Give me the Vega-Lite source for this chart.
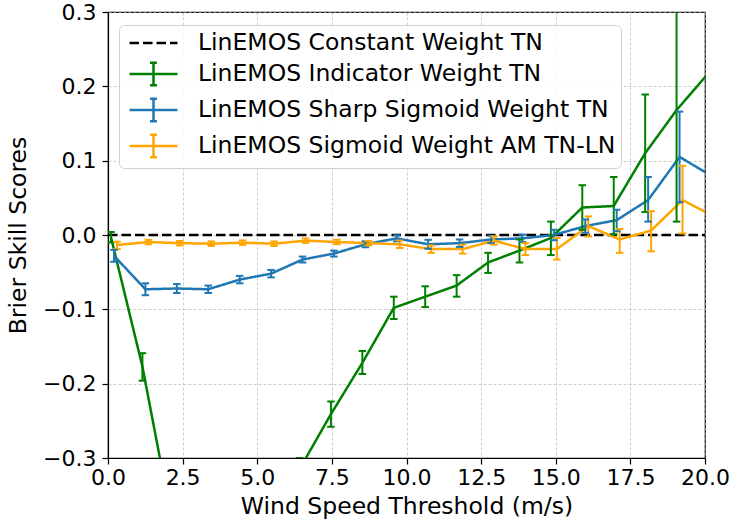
{
  "$schema": "https://vega.github.io/schema/vega-lite/v6.json",
  "width": 597,
  "height": 446,
  "autosize": {"type": "none"},
  "padding": {"left": 108, "top": 12, "right": 26, "bottom": 66},
  "background": "white",
  "config": {
    "font": "DejaVu Sans",
    "view": {"stroke": "black", "strokeWidth": 1.2},
    "axis": {
      "labelFont": "DejaVu Sans",
      "titleFont": "DejaVu Sans",
      "labelFontSize": 22,
      "titleFontSize": 23.5,
      "labelColor": "black",
      "titleColor": "black",
      "titleFontWeight": "normal",
      "labelFlush": false,
      "labelOverlap": false,
      "domainColor": "black",
      "domainWidth": 1.2,
      "tickColor": "black",
      "tickSize": 6,
      "tickWidth": 1.2,
      "gridColor": "#b0b0b0",
      "gridOpacity": 0.8,
      "gridDash": [3, 2],
      "gridWidth": 0.8
    }
  },
  "datasets": {
    "pts": [
      {"series": "LinEMOS Constant Weight TN", "x": 0, "y": 0},
      {"series": "LinEMOS Constant Weight TN", "x": 20, "y": 0},

      {"series": "LinEMOS Indicator Weight TN", "x": 0.1, "y": -0.003, "lo": -0.010, "hi": 0.004},
      {"series": "LinEMOS Indicator Weight TN", "x": 1.153, "y": -0.177, "lo": -0.196, "hi": -0.159},
      {"series": "LinEMOS Indicator Weight TN", "x": 2.205, "y": -0.398, "lo": -0.42, "hi": -0.376},
      {"series": "LinEMOS Indicator Weight TN", "x": 3.258, "y": -0.45, "lo": -0.47, "hi": -0.43},
      {"series": "LinEMOS Indicator Weight TN", "x": 4.311, "y": -0.42, "lo": -0.44, "hi": -0.40},
      {"series": "LinEMOS Indicator Weight TN", "x": 5.363, "y": -0.37, "lo": -0.39, "hi": -0.35},
      {"series": "LinEMOS Indicator Weight TN", "x": 6.416, "y": -0.315, "lo": -0.33, "hi": -0.300},
      {"series": "LinEMOS Indicator Weight TN", "x": 7.468, "y": -0.241, "lo": -0.258, "hi": -0.224},
      {"series": "LinEMOS Indicator Weight TN", "x": 8.521, "y": -0.172, "lo": -0.187, "hi": -0.156},
      {"series": "LinEMOS Indicator Weight TN", "x": 9.574, "y": -0.098, "lo": -0.113, "hi": -0.083},
      {"series": "LinEMOS Indicator Weight TN", "x": 10.626, "y": -0.083, "lo": -0.097, "hi": -0.069},
      {"series": "LinEMOS Indicator Weight TN", "x": 11.679, "y": -0.068, "lo": -0.083, "hi": -0.054},
      {"series": "LinEMOS Indicator Weight TN", "x": 12.732, "y": -0.037, "lo": -0.051, "hi": -0.024},
      {"series": "LinEMOS Indicator Weight TN", "x": 13.784, "y": -0.021, "lo": -0.037, "hi": -0.006},
      {"series": "LinEMOS Indicator Weight TN", "x": 14.837, "y": -0.004, "lo": -0.027, "hi": 0.018},
      {"series": "LinEMOS Indicator Weight TN", "x": 15.889, "y": 0.037, "lo": 0.007, "hi": 0.067},
      {"series": "LinEMOS Indicator Weight TN", "x": 16.942, "y": 0.039, "lo": 0.001, "hi": 0.078},
      {"series": "LinEMOS Indicator Weight TN", "x": 17.995, "y": 0.110, "lo": 0.031, "hi": 0.189},
      {"series": "LinEMOS Indicator Weight TN", "x": 19.047, "y": 0.168, "lo": 0.018, "hi": 0.318},
      {"series": "LinEMOS Indicator Weight TN", "x": 20.1, "y": 0.217, "lo": 0.02, "hi": 0.41},

      {"series": "LinEMOS Sharp Sigmoid Weight TN", "x": 0.2, "y": -0.028, "lo": -0.036, "hi": -0.020},
      {"series": "LinEMOS Sharp Sigmoid Weight TN", "x": 1.253, "y": -0.073, "lo": -0.081, "hi": -0.065},
      {"series": "LinEMOS Sharp Sigmoid Weight TN", "x": 2.305, "y": -0.072, "lo": -0.078, "hi": -0.066},
      {"series": "LinEMOS Sharp Sigmoid Weight TN", "x": 3.358, "y": -0.073, "lo": -0.078, "hi": -0.068},
      {"series": "LinEMOS Sharp Sigmoid Weight TN", "x": 4.411, "y": -0.060, "lo": -0.065, "hi": -0.055},
      {"series": "LinEMOS Sharp Sigmoid Weight TN", "x": 5.463, "y": -0.052, "lo": -0.057, "hi": -0.047},
      {"series": "LinEMOS Sharp Sigmoid Weight TN", "x": 6.516, "y": -0.033, "lo": -0.037, "hi": -0.029},
      {"series": "LinEMOS Sharp Sigmoid Weight TN", "x": 7.568, "y": -0.025, "lo": -0.029, "hi": -0.021},
      {"series": "LinEMOS Sharp Sigmoid Weight TN", "x": 8.621, "y": -0.0125, "lo": -0.0165, "hi": -0.0085},
      {"series": "LinEMOS Sharp Sigmoid Weight TN", "x": 9.674, "y": -0.0045, "lo": -0.0085, "hi": -0.0005},
      {"series": "LinEMOS Sharp Sigmoid Weight TN", "x": 10.726, "y": -0.0125, "lo": -0.0185, "hi": -0.0065},
      {"series": "LinEMOS Sharp Sigmoid Weight TN", "x": 11.779, "y": -0.011, "lo": -0.016, "hi": -0.006},
      {"series": "LinEMOS Sharp Sigmoid Weight TN", "x": 12.832, "y": -0.006, "lo": -0.011, "hi": -0.001},
      {"series": "LinEMOS Sharp Sigmoid Weight TN", "x": 13.884, "y": -0.0045, "lo": -0.0095, "hi": 0.0005},
      {"series": "LinEMOS Sharp Sigmoid Weight TN", "x": 14.937, "y": 0.0, "lo": -0.007, "hi": 0.007},
      {"series": "LinEMOS Sharp Sigmoid Weight TN", "x": 15.989, "y": 0.012, "lo": 0.003, "hi": 0.021},
      {"series": "LinEMOS Sharp Sigmoid Weight TN", "x": 17.042, "y": 0.020, "lo": 0.005, "hi": 0.034},
      {"series": "LinEMOS Sharp Sigmoid Weight TN", "x": 18.095, "y": 0.047, "lo": 0.018, "hi": 0.078},
      {"series": "LinEMOS Sharp Sigmoid Weight TN", "x": 19.147, "y": 0.105, "lo": 0.044, "hi": 0.166},
      {"series": "LinEMOS Sharp Sigmoid Weight TN", "x": 20.2, "y": 0.080, "lo": 0.02, "hi": 0.14},

      {"series": "LinEMOS Sigmoid Weight AM TN-LN", "x": 0.3, "y": -0.0135, "lo": -0.019, "hi": -0.009},
      {"series": "LinEMOS Sigmoid Weight AM TN-LN", "x": 1.353, "y": -0.0094, "lo": -0.0124, "hi": -0.0064},
      {"series": "LinEMOS Sigmoid Weight AM TN-LN", "x": 2.405, "y": -0.011, "lo": -0.014, "hi": -0.008},
      {"series": "LinEMOS Sigmoid Weight AM TN-LN", "x": 3.458, "y": -0.0117, "lo": -0.0147, "hi": -0.0087},
      {"series": "LinEMOS Sigmoid Weight AM TN-LN", "x": 4.511, "y": -0.0103, "lo": -0.0133, "hi": -0.0073},
      {"series": "LinEMOS Sigmoid Weight AM TN-LN", "x": 5.563, "y": -0.0117, "lo": -0.0147, "hi": -0.0087},
      {"series": "LinEMOS Sigmoid Weight AM TN-LN", "x": 6.616, "y": -0.0076, "lo": -0.0106, "hi": -0.0046},
      {"series": "LinEMOS Sigmoid Weight AM TN-LN", "x": 7.668, "y": -0.0094, "lo": -0.0124, "hi": -0.0064},
      {"series": "LinEMOS Sigmoid Weight AM TN-LN", "x": 8.721, "y": -0.011, "lo": -0.014, "hi": -0.008},
      {"series": "LinEMOS Sigmoid Weight AM TN-LN", "x": 9.774, "y": -0.0125, "lo": -0.0175, "hi": -0.0075},
      {"series": "LinEMOS Sigmoid Weight AM TN-LN", "x": 10.826, "y": -0.019, "lo": -0.024, "hi": -0.014},
      {"series": "LinEMOS Sigmoid Weight AM TN-LN", "x": 11.879, "y": -0.019, "lo": -0.025, "hi": -0.013},
      {"series": "LinEMOS Sigmoid Weight AM TN-LN", "x": 12.932, "y": -0.0077, "lo": -0.013, "hi": -0.002},
      {"series": "LinEMOS Sigmoid Weight AM TN-LN", "x": 13.984, "y": -0.019, "lo": -0.027, "hi": -0.011},
      {"series": "LinEMOS Sigmoid Weight AM TN-LN", "x": 15.037, "y": -0.019, "lo": -0.033, "hi": -0.004},
      {"series": "LinEMOS Sigmoid Weight AM TN-LN", "x": 16.089, "y": 0.012, "lo": -0.002, "hi": 0.025},
      {"series": "LinEMOS Sigmoid Weight AM TN-LN", "x": 17.142, "y": -0.006, "lo": -0.024, "hi": 0.008},
      {"series": "LinEMOS Sigmoid Weight AM TN-LN", "x": 18.195, "y": 0.006, "lo": -0.022, "hi": 0.032},
      {"series": "LinEMOS Sigmoid Weight AM TN-LN", "x": 19.247, "y": 0.047, "lo": 0.002, "hi": 0.093},
      {"series": "LinEMOS Sigmoid Weight AM TN-LN", "x": 20.3, "y": 0.025, "lo": -0.015, "hi": 0.065}
    ]
  },
  "data": {"name": "pts"},
  "encoding": {
    "x": {
      "field": "x", "type": "quantitative",
      "scale": {"domain": [0, 20], "nice": false, "zero": false, "padding": 0},
      "axis": {"title": "Wind Speed Threshold (m/s)", "values": [0, 2.5, 5, 7.5, 10, 12.5, 15, 17.5, 20], "format": ".1f", "labelPadding": 3, "titlePadding": 6, "grid": true}
    },
    "color": {
      "field": "series", "type": "nominal",
      "scale": {
        "domain": ["LinEMOS Constant Weight TN", "LinEMOS Indicator Weight TN", "LinEMOS Sharp Sigmoid Weight TN", "LinEMOS Sigmoid Weight AM TN-LN"],
        "range": ["black", "#008000", "#1f77b4", "#ffa500"]
      },
      "legend": {
        "title": null,
        "orient": "none",
        "legendX": 11,
        "legendY": 13,
        "fillColor": "rgba(255,255,255,0.85)",
        "strokeColor": "#d0d0d0",
        "cornerRadius": 5,
        "padding": 5,
        "labelFont": "DejaVu Sans",
        "labelFontSize": 23.5,
        "labelColor": "black",
        "labelLimit": 600,
        "labelOffset": 48,
        "symbolSize": 529,
        "symbolStrokeWidth": 2.5,
        "rowPadding": 2,
        "encode": {
          "symbols": {
            "update": {
              "shape": {"signal": "datum.value === 'LinEMOS Constant Weight TN' ? 'M-0.65,0H3.52' : 'M-0.65,0H3.52M1.435,-0.98V0.98M1.135,-0.98H1.735M1.135,0.98H1.735'"},
              "strokeWidth": {"value": 2.5},
              "fill": {"value": "transparent"}
            }
          }
        }
      }
    }
  },
  "layer": [
    {
      "mark": {"type": "line", "clip": true, "strokeWidth": 2.5},
      "encoding": {
        "y": {
          "field": "y", "type": "quantitative",
          "scale": {"domain": [-0.3, 0.3], "nice": false, "zero": false, "padding": 0},
          "axis": {"title": "Brier Skill Scores", "values": [-0.3, -0.2, -0.1, 0, 0.1, 0.2, 0.3], "format": ".1f", "labelPadding": 6, "titlePadding": 12, "grid": true}
        },
        "strokeDash": {
          "field": "series", "type": "nominal",
          "scale": {
            "domain": ["LinEMOS Constant Weight TN", "LinEMOS Indicator Weight TN", "LinEMOS Sharp Sigmoid Weight TN", "LinEMOS Sigmoid Weight AM TN-LN"],
            "range": [[9.5, 4], [1, 0], [1, 0], [1, 0]]
          },
          "legend": null
        },
        "order": {"field": "x", "type": "quantitative"}
      }
    },
    {
      "mark": {"type": "rule", "clip": true, "strokeWidth": 2},
      "encoding": {
        "y": {"field": "lo", "type": "quantitative"},
        "y2": {"field": "hi"}
      }
    },
    {
      "mark": {"type": "point", "clip": true, "shape": "M-1,0H1", "size": 56, "strokeWidth": 2, "filled": false, "opacity": 1},
      "encoding": {"y": {"field": "lo", "type": "quantitative"}}
    },
    {
      "mark": {"type": "point", "clip": true, "shape": "M-1,0H1", "size": 56, "strokeWidth": 2, "filled": false, "opacity": 1},
      "encoding": {"y": {"field": "hi", "type": "quantitative"}}
    }
  ]
}
